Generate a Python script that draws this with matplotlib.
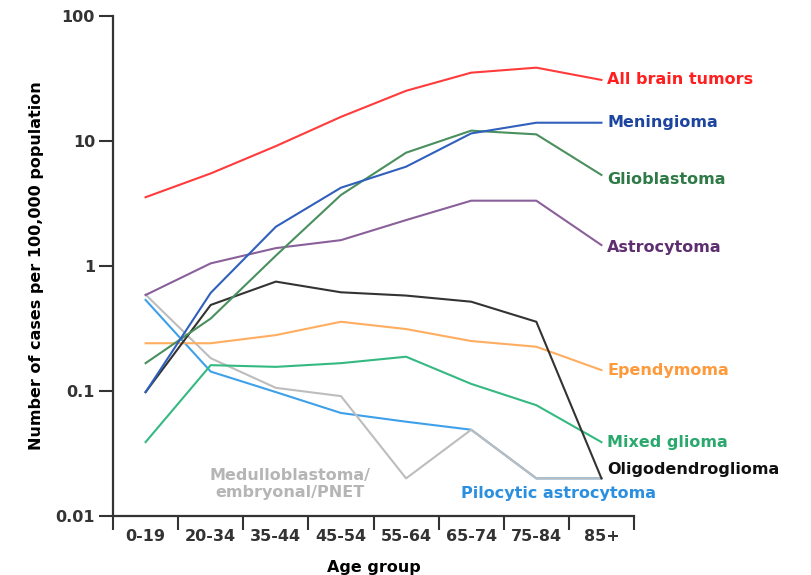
import matplotlib.pyplot as plt
import numpy as np

# age groups on the x axis
age_groups = ['0-19', '20-34', '35-44', '45-54', '55-64', '65-74', '75-84', '85+']

# incidence per 100,000 population
all_brain = [3.55, 5.5, 9.1, 15.6, 25.2, 35.2, 38.6, 30.8]
meningioma = [0.098, 0.61, 2.06, 4.23, 6.23, 11.5, 14.0, 14.0]
glioblastoma = [0.167, 0.38, 1.21, 3.7, 8.06, 12.1, 11.3, 5.35]
astrocytoma = [0.586, 1.05, 1.39, 1.61, 2.33, 3.33, 3.33, 1.47]
oligodendroglioma = [0.098, 0.488, 0.75, 0.616, 0.58, 0.518, 0.358, 0.02]
ependymoma = [0.241, 0.241, 0.28, 0.358, 0.313, 0.251, 0.226, 0.147]
mixed_glioma = [0.039, 0.161, 0.156, 0.167, 0.188, 0.114, 0.077, 0.039]
pilocytic = [0.535, 0.143, 0.098, 0.0667, 0.0568, 0.049, 0.02, 0.02]
medullo = [0.59, 0.183, 0.106, 0.091, 0.02, 0.049, 0.02, 0.02]

# (values, line colour, label colour, label text, label shift in points)
series = [
    (pilocytic, '#3fa0ea', '#2b8fe0', None, 0),
    (medullo, '#bdbdbd', '#b5b5b5', None, 0),
    (mixed_glioma, '#35b982', '#2aa86e', 'Mixed glioma', 0),
    (ependymoma, '#ffad60', '#ff9a3c', 'Ependymoma', 0),
    (oligodendroglioma, '#333333', '#111111', 'Oligodendroglioma', 6.5),
    (astrocytoma, '#8a609a', '#5e2f70', 'Astrocytoma', -1.5),
    (glioblastoma, '#4a8f5e', '#2f7a46', 'Glioblastoma', -3.5),
    (meningioma, '#3060bb', '#1d45a0', 'Meningioma', 0.5),
    (all_brain, '#ff3b3b', '#ff1f1f', 'All brain tumors', 0.5),
]

FS = 11.5

fig = plt.figure(figsize=(8.12, 5.75), dpi=100)
ax = fig.add_axes([0.1392, 0.1026, 0.6416, 0.8696])

x = np.arange(len(age_groups))
for vals, lc, tc, name, dy in series:
    ax.plot(x, vals, color=lc, linewidth=1.5)
    if name:
        ax.annotate(name, xy=(x[-1], vals[-1]), xytext=(4, dy),
                    textcoords='offset points', va='center', ha='left',
                    color=tc, fontsize=FS, fontweight='bold',
                    annotation_clip=False)

# labels that sit inside the plot
ax.text(2.22, 0.018, 'Medulloblastoma/\nembryonal/PNET', color='#b5b5b5',
        fontsize=FS, fontweight='bold', ha='center', va='center',
        linespacing=1.15)
ax.text(4.84, 0.015, 'Pilocytic astrocytoma', color='#2b8fe0',
        fontsize=FS, fontweight='bold', ha='left', va='center')

ax.set_yscale('log')
ax.set_ylim(0.01, 100)
ax.set_xlim(-0.5, len(age_groups) - 0.5)
ax.set_yticks([0.01, 0.1, 1, 10, 100])
ax.set_yticklabels(['0.01', '0.1', '1', '10', '100'])
ax.minorticks_off()

# boundaries as major ticks, names on minor ticks at the centres
ax.set_xticks(np.arange(len(age_groups) + 1) - 0.5)
ax.set_xticklabels([])
ax.set_xticks(x, minor=True)
ax.set_xticklabels(age_groups, minor=True)
ax.tick_params(axis='x', which='minor', length=0, pad=9)
ax.tick_params(axis='both', which='major', length=10, width=1.5,
               color='#333333')
ax.tick_params(axis='y', pad=3)
for lab in ax.get_xticklabels(minor=True) + ax.get_yticklabels():
    lab.set_fontsize(FS)
    lab.set_fontweight('bold')
    lab.set_color('#333333')

for side in ['top', 'right']:
    ax.spines[side].set_visible(False)
for side in ['left', 'bottom']:
    ax.spines[side].set_linewidth(1.6)
    ax.spines[side].set_color('#333333')

ax.set_xlabel('Age group', fontsize=FS, fontweight='bold', labelpad=12)
ax.set_ylabel('Number of cases per 100,000 population', fontsize=FS,
              fontweight='bold', labelpad=8)

fig.savefig('out.png', dpi=100)
